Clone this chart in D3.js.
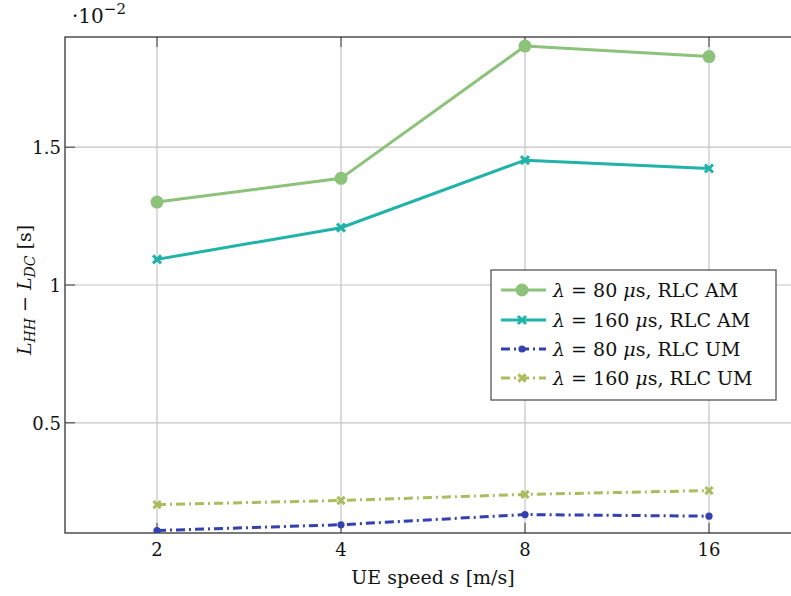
<!DOCTYPE html>
<html><head><meta charset="utf-8">
<script src="https://cdn.jsdelivr.net/npm/d3@7"></script>
<style>body{margin:0;background:#fff}svg{display:block}</style>
</head><body><svg id="c" width="791" height="596" font-family="'DejaVu Serif', serif"></svg>
<script>
const speeds = [2, 4, 8, 16];
const am80 = [1.301, 1.387, 1.867, 1.829];
const am160 = [1.093, 1.208, 1.453, 1.423];
const um80 = [0.109, 0.130, 0.167, 0.161];
const um160 = [0.203, 0.218, 0.240, 0.254];
const yTicks = [0.5, 1, 1.5];
const yTickLabels = ["0.5", "1", "1.5"];
const seriesNames = [["80", "AM"], ["160", "AM"], ["80", "UM"], ["160", "UM"]];

const L = 65, R = 801, T = 37, B = 533;
const svg = d3.select("#c");
const x = d3.scaleLog().base(2).domain([Math.SQRT2, 16 * Math.SQRT2]).range([L, R]);
const y = d3.scaleLinear().domain([0.1, 1.9]).range([B, T]);

const series = [
  {v: am80, color: "#8cc27a", w: 3, dash: null, mark: "circle", ms: 6.5},
  {v: am160, color: "#1fb3aa", w: 3, dash: null, mark: "x", ms: 4},
  {v: um80, color: "#3340b0", w: 3, dash: "9,4,2,4", mark: "circle", ms: 3.6},
  {v: um160, color: "#a9bd5e", w: 3, dash: "9,4,2,4", mark: "x", ms: 3.6}
];

svg.append("defs").append("clipPath").attr("id", "clip")
  .append("rect").attr("x", L).attr("y", T).attr("width", R - L).attr("height", B - T);

const g = svg.append("g");
g.selectAll(".gx").data(speeds).join("line")
  .attr("x1", d => x(d)).attr("x2", d => x(d)).attr("y1", T).attr("y2", B)
  .attr("stroke", "#c4c4c4").attr("stroke-width", 1.2);
g.selectAll(".gy").data(yTicks).join("line")
  .attr("x1", L).attr("x2", R).attr("y1", d => y(d)).attr("y2", d => y(d))
  .attr("stroke", "#c4c4c4").attr("stroke-width", 1.2);

const tl = 10, tc = "#555";
speeds.forEach(s => {
  g.append("line").attr("x1", x(s)).attr("x2", x(s)).attr("y1", B).attr("y2", B - tl).attr("stroke", tc).attr("stroke-width", 1.2);
  g.append("line").attr("x1", x(s)).attr("x2", x(s)).attr("y1", T).attr("y2", T + tl).attr("stroke", tc).attr("stroke-width", 1.2);
});
yTicks.forEach(t => {
  g.append("line").attr("x1", L).attr("x2", L + tl).attr("y1", y(t)).attr("y2", y(t)).attr("stroke", tc).attr("stroke-width", 1.2);
});

svg.append("rect").attr("x", L).attr("y", T).attr("width", R - L).attr("height", B - T)
  .attr("fill", "none").attr("stroke", "#333").attr("stroke-width", 1.3);

svg.selectAll(".xl").data(speeds).join("text")
  .attr("x", d => x(d)).attr("y", B + 23).attr("text-anchor", "middle")
  .style("font-size", "18px").attr("fill", "#111").text(d => d);
svg.selectAll(".yl").data(yTicks).join("text")
  .attr("x", L - 4).attr("y", d => y(d) + 7).attr("text-anchor", "end")
  .style("font-size", "18px").attr("fill", "#111").text((d, i) => yTickLabels[i]);

const ex = svg.append("text").attr("x", 72).attr("y", 23).style("font-size", "20px").attr("fill", "#111");
ex.append("tspan").text("·10");
ex.append("tspan").attr("dy", -9).style("font-size", "15px").text("−2");

const xl = svg.append("text").attr("x", 433).attr("y", 584).attr("text-anchor", "middle").style("font-size", "19px").attr("fill", "#111");
xl.append("tspan").text("UE speed ");
xl.append("tspan").style("font-style", "italic").text("s");
xl.append("tspan").text(" [m/s]");

const yl = svg.append("text").attr("transform", "translate(31,290) rotate(-90)").attr("text-anchor", "middle").style("font-size", "19px").attr("fill", "#111");
yl.append("tspan").style("font-style", "italic").text("L");
yl.append("tspan").attr("dy", 4).style("font-style", "italic").style("font-size", "14px").text("HH");
yl.append("tspan").attr("dy", -4).text(" − ");
yl.append("tspan").style("font-style", "italic").text("L");
yl.append("tspan").attr("dy", 4).style("font-style", "italic").style("font-size", "14px").text("DC");
yl.append("tspan").attr("dy", -4).text(" [s]");

function drawMark(sel, s, cx, cy) {
  if (s.mark === "circle") {
    sel.append("circle").attr("cx", cx).attr("cy", cy).attr("r", s.ms).attr("fill", s.color);
  } else {
    const m = s.ms;
    sel.append("path").attr("d", `M${cx - m},${cy - m}L${cx + m},${cy + m}M${cx - m},${cy + m}L${cx + m},${cy - m}`)
      .attr("stroke", s.color).attr("stroke-width", 3).attr("fill", "none");
    sel.append("path").attr("d", `M${cx - m * 0.6},${cy}L${cx + m * 0.6},${cy}`)
      .attr("stroke", s.color).attr("stroke-width", 3);
  }
}

const plot = svg.append("g").attr("clip-path", "url(#clip)");
const line = d3.line().x((d, i) => x(speeds[i])).y(d => y(d));
series.forEach(s => {
  plot.append("path").datum(s.v).attr("d", line).attr("fill", "none")
    .attr("stroke", s.color).attr("stroke-width", s.w).attr("stroke-dasharray", s.dash);
  s.v.forEach((v, i) => drawMark(plot, s, x(speeds[i]), y(v)));
});

const lg = svg.append("g");
lg.append("rect").attr("x", 491).attr("y", 270).attr("width", 285).attr("height", 130)
  .attr("fill", "#fff").attr("stroke", "#555").attr("stroke-width", 1.3);
const rowY = [290, 320, 349, 378];
series.forEach((s, i) => {
  const yy = rowY[i];
  lg.append("line").attr("x1", 501).attr("x2", 546).attr("y1", yy).attr("y2", yy)
    .attr("stroke", s.color).attr("stroke-width", s.w).attr("stroke-dasharray", s.dash);
  drawMark(lg, s, 522, yy);
  const t = lg.append("text").attr("x", 553).attr("y", yy + 7).style("font-size", "19px").attr("fill", "#111");
  t.append("tspan").style("font-style", "italic").text("λ");
  t.append("tspan").text(" = " + seriesNames[i][0] + " ");
  t.append("tspan").style("font-style", "italic").text("μ");
  t.append("tspan").text("s, RLC " + seriesNames[i][1]);
});
</script></body></html>
